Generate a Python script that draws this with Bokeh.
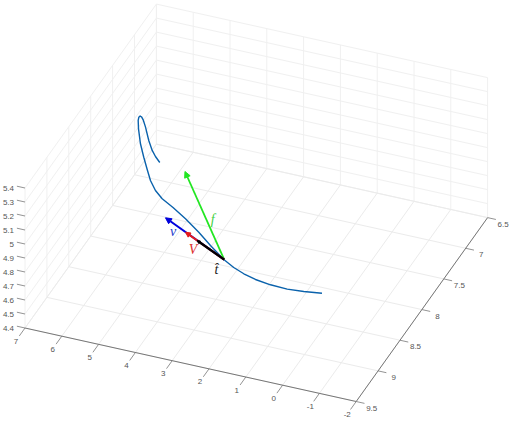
from bokeh.plotting import figure
from bokeh.models import Arrow, NormalHead, Range1d
from bokeh.core.properties import value
from bokeh.embed import file_html
from bokeh.resources import INLINE

# axis ticks
x_ticks = [7, 6, 5, 4, 3, 2, 1, 0, -1, -2]
y_ticks = [6.5, 7, 7.5, 8, 8.5, 9, 9.5]
z_ticks = [4.4, 4.5, 4.6, 4.7, 4.8, 4.9, 5, 5.1, 5.2, 5.3, 5.4]
x_labels = ["7", "6", "5", "4", "3", "2", "1", "0", "-1", "-2"]
y_labels = ["6.5", "7", "7.5", "8", "8.5", "9", "9.5"]
z_labels = ["4.4", "4.5", "4.6", "4.7", "4.8", "4.9", "5", "5.1", "5.2", "5.3", "5.4"]

# trajectory (read at z = 4.9)
curve_x = [5.440, 5.641, 5.819, 6.066, 6.366, 6.544, 6.624, 6.679, 6.689, 6.650, 6.503, 6.206,
           5.903, 5.617, 5.356, 5.071, 4.775, 4.375, 3.893, 3.356, 2.860, 2.313, 1.945, 1.604,
           1.235, 0.794, 0.328, -0.099, -0.557]
curve_y = [7.734, 7.663, 7.588, 7.459, 7.281, 7.185, 7.151, 7.141, 7.163, 7.210, 7.326, 7.531,
           7.710, 7.872, 8.017, 8.142, 8.237, 8.326, 8.446, 8.594, 8.744, 8.900, 8.981, 9.038,
           9.082, 9.110, 9.119, 9.100, 9.069]
curve_z = [4.9] * len(curve_x)

# vectors from a common origin
origin = (2.300, 8.900, 4.9)
vec_names = ["f", "v", "V", "t"]
vec_x = [4.698, 4.379, 3.668, 3.255]
vec_y = [7.782, 8.495, 8.635, 8.716]
vec_z = [4.9, 4.9, 4.9, 4.9]
vec_colors = ["#22e622", "#0000dd", "#e61a1a", "#000000"]
vec_widths = [1.8, 2.0, 2.0, 2.4]
vec_heads = [6, 6, 5, 3]

# labels of the vectors
lab_text = ["f", "v", "V", "t\u0302"]
lab_colors = ["#3fd03f", "#1a3acc", "#dd3030", "#222222"]
lab_x = [3.238, 3.971, 3.204, 2.31]
lab_y = [8.374, 8.661, 8.854, 9.069]
lab_z = [4.9, 4.9, 4.9, 4.9]


def proj(x, y, z):
    u, v = 7 - x, 9.5 - y
    return (24.5 + 36.8 * u + 43.8 * v, 327.5 + 8.17 * u - 61.3 * v - 140 * (z - 4.4))


def seg(a, b):
    pa, pb = proj(*a), proj(*b)
    return [pa[0], pb[0]], [pa[1], pb[1]]


p = figure(width=510, height=422, x_range=Range1d(0, 510), y_range=Range1d(422, 0),
           output_backend="svg", toolbar_location=None, min_border=0,
           outline_line_color=None, background_fill_color="white", border_fill_color="white",
           styles={"position": "absolute", "left": "0px", "top": "0px"})
p.axis.visible = False
p.grid.visible = False

x0, x1 = x_ticks[-1], x_ticks[0]
y0, y1 = y_ticks[0], y_ticks[-1]
z0, z1 = z_ticks[0], z_ticks[-1]

floor = []
walls = []
for x in x_ticks:
    floor.append(seg((x, y0, z0), (x, y1, z0)))
    walls.append(seg((x, y0, z0), (x, y0, z1)))
for y in y_ticks:
    floor.append(seg((x0, y, z0), (x1, y, z0)))
    walls.append(seg((x1, y, z0), (x1, y, z1)))
for z in z_ticks:
    walls.append(seg((x0, y0, z), (x1, y0, z)))
    walls.append(seg((x1, y0, z), (x1, y1, z)))
p.multi_line([g[0] for g in walls], [g[1] for g in walls], line_color="#f0f0f0", line_width=1)
p.multi_line([g[0] for g in floor], [g[1] for g in floor], line_color="#ebebeb", line_width=1)

axes = [seg((x0, y1, z0), (x1, y1, z0)), seg((x0, y0, z0), (x0, y1, z0))]
ticks = []
for x in x_ticks:
    ticks.append(seg((x, y1, z0), (x, y1 + 0.13, z0)))
for y in y_ticks:
    ticks.append(seg((x0, y, z0), (x0 - 0.225, y, z0)))
for z in z_ticks:
    ticks.append(seg((x1, y1, z), (x1 + 0.22, y1, z)))
p.multi_line([g[0] for g in axes], [g[1] for g in axes], line_color="#777777", line_width=1)
p.multi_line([g[0] for g in ticks], [g[1] for g in ticks], line_color="#777777", line_width=0.8)

cx, cy = zip(*[proj(a, b, c) for a, b, c in zip(curve_x, curve_y, curve_z)])
p.line(list(cx), list(cy), line_color="#0a62ac", line_width=1.4, line_join="round")

ox, oy = proj(*origin)
for i in range(len(vec_names)):
    tx, ty = proj(vec_x[i], vec_y[i], vec_z[i])
    p.add_layout(Arrow(end=NormalHead(size=vec_heads[i], fill_color=vec_colors[i], line_color=vec_colors[i]),
                       x_start=ox, y_start=oy, x_end=tx, y_end=ty,
                       line_color=vec_colors[i], line_width=vec_widths[i]))

tick_style = dict(text_font=value("Liberation Sans"), text_font_size="8px", text_color="#555555",
                  text_baseline="middle")
tx, ty = zip(*[proj(x, y1, z0) for x in x_ticks])
p.text(list(tx), list(ty), text=x_labels, x_offset=-9, y_offset=13, text_align="center", **tick_style)
tx, ty = zip(*[proj(x0, y, z0) for y in y_ticks])
p.text(list(tx), list(ty), text=y_labels, x_offset=15.5, y_offset=6.5, text_align="center", **tick_style)
tx, ty = zip(*[proj(x1, y1, z) for z in z_ticks])
p.text(list(tx), list(ty), text=z_labels, x_offset=-11, y_offset=0, text_align="right", **tick_style)

lx, ly = zip(*[proj(a, b, c) for a, b, c in zip(lab_x, lab_y, lab_z)])
p.text(list(lx), list(ly), text=lab_text, text_color=lab_colors, text_font=value("Liberation Serif"),
       text_font_size="14px", text_font_style="italic", text_align="center", text_baseline="middle")

open("out.html", "w").write(file_html(p, INLINE))
